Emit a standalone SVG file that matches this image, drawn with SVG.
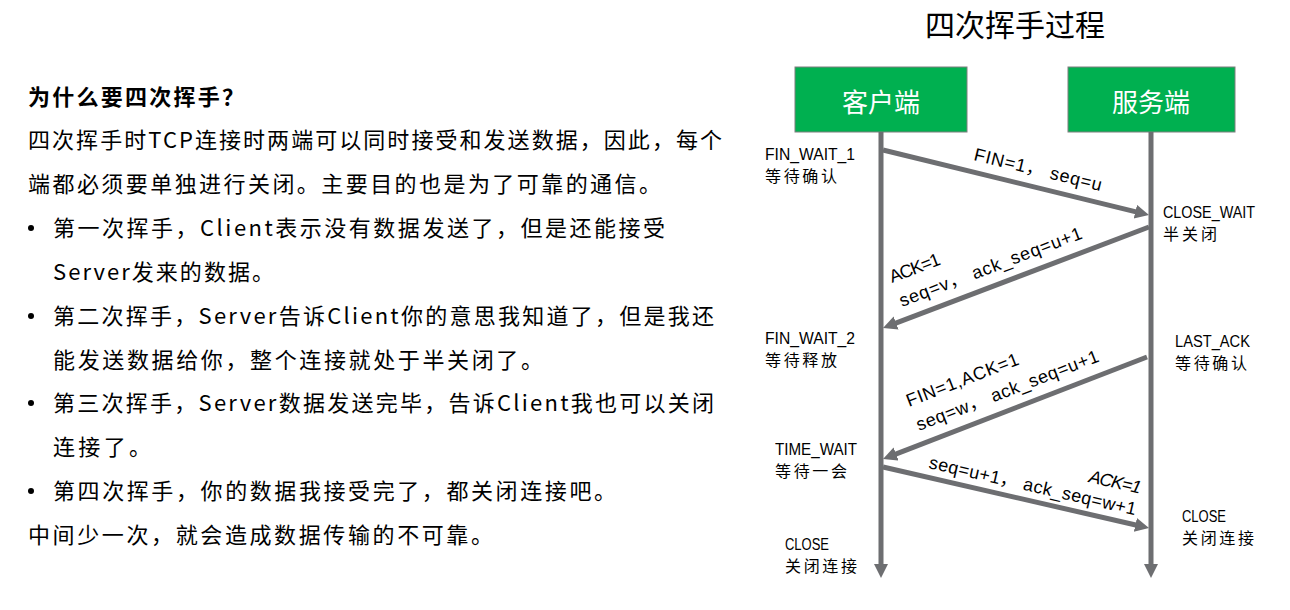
<svg xmlns="http://www.w3.org/2000/svg" width="1290" height="610" viewBox="0 0 1290 610">
<defs>
<style>
.body{font-family:"Noto Sans CJK SC","Liberation Sans",sans-serif;font-size:22px;fill:#000}
.head{font-family:"Noto Sans CJK SC","Liberation Sans",sans-serif;font-size:22px;font-weight:bold;fill:#000}
.title{font-family:"Noto Sans CJK SC",sans-serif;font-size:30px;fill:#000}
.box{fill:#00B050;stroke:#7f7f7f;stroke-width:1}
.boxt{font-family:"Noto Sans CJK SC",sans-serif;font-size:26px;fill:#fff}
.st{font-family:"Liberation Sans","Noto Sans CJK SC",sans-serif;font-size:16px;fill:#000}
.stc{font-family:"Noto Sans CJK SC",sans-serif;font-size:16px;fill:#000}
.msg{font-family:"Liberation Sans","Noto Sans CJK SC",sans-serif;font-size:18px;fill:#000}
.ln{stroke:#6d6e71;stroke-width:5;fill:none}
</style>
<marker id="ah" markerUnits="userSpaceOnUse" markerWidth="16" markerHeight="16" refX="6" refY="7" orient="auto">
<path d="M0,0 L14,7 L0,14 z" fill="#6d6e71"/>
</marker>
</defs>
<rect width="1290" height="610" fill="#fff"/>

<g id="explanation">
<text class="head" x="28" y="105" textLength="216">为什么要四次挥手？</text>
<text class="body" x="28" y="148" textLength="694">四次挥手时TCP连接时两端可以同时接受和发送数据，因此，每个</text>
<text class="body" x="28" y="192" textLength="633">端都必须要单独进行关闭。主要目的也是为了可靠的通信。</text>
<circle cx="31" cy="228" r="3" fill="#000"/>
<text class="body" x="53" y="236" textLength="612">第一次挥手，Client表示没有数据发送了，但是还能接受</text>
<text class="body" x="53" y="280" textLength="221">Server发来的数据。</text>
<circle cx="31" cy="316" r="3" fill="#000"/>
<text class="body" x="53" y="324" textLength="661">第二次挥手，Server告诉Client你的意思我知道了，但是我还</text>
<text class="body" x="53" y="368" textLength="490">能发送数据给你，整个连接就处于半关闭了。</text>
<circle cx="31" cy="403" r="3" fill="#000"/>
<text class="body" x="53" y="411" textLength="661">第三次挥手，Server数据发送完毕，告诉Client我也可以关闭</text>
<text class="body" x="53" y="455" textLength="98">连接了。</text>
<circle cx="31" cy="491" r="3" fill="#000"/>
<text class="body" x="53" y="499" textLength="563">第四次挥手，你的数据我接受完了，都关闭连接吧。</text>
<text class="body" x="28" y="543" textLength="465">中间少一次，就会造成数据传输的不可靠。</text>
</g>

<text class="title" x="1015" y="36" text-anchor="middle">四次挥手过程</text>

<g id="client">
<rect class="box" x="795" y="67" width="172" height="65"/>
<text class="boxt" x="881" y="112" text-anchor="middle">客户端</text>
</g>
<g id="server">
<rect class="box" x="1068" y="67" width="167" height="65"/>
<text class="boxt" x="1151" y="112" text-anchor="middle">服务端</text>
</g>

<g id="connectors">
<line class="ln" x1="881" y1="132" x2="881" y2="570" marker-end="url(#ah)"/>
<line class="ln" x1="1151" y1="132" x2="1151" y2="570" marker-end="url(#ah)"/>
<line class="ln" x1="883" y1="150" x2="1141.2" y2="213.1" marker-end="url(#ah)"/>
<line class="ln" x1="1149" y1="227" x2="890.5" y2="325.2" marker-end="url(#ah)"/>
<line class="ln" x1="1147" y1="357" x2="890.5" y2="456.1" marker-end="url(#ah)"/>
<line class="ln" x1="883" y1="467" x2="1141.2" y2="526.2" marker-end="url(#ah)"/>
</g>

<g id="labels">
<text class="st" x="765" y="160" textLength="90" lengthAdjust="spacingAndGlyphs">FIN_WAIT_1</text>
<text class="stc" x="765" y="182" textLength="72">等待确认</text>
<text class="st" x="1163" y="218" textLength="92" lengthAdjust="spacingAndGlyphs">CLOSE_WAIT</text>
<text class="stc" x="1163" y="240" textLength="54">半关闭</text>
<text class="st" x="765" y="344" textLength="90" lengthAdjust="spacingAndGlyphs">FIN_WAIT_2</text>
<text class="stc" x="765" y="366" textLength="72">等待释放</text>
<text class="st" x="1175" y="347" textLength="75" lengthAdjust="spacingAndGlyphs">LAST_ACK</text>
<text class="stc" x="1175" y="369" textLength="72">等待确认</text>
<text class="st" x="775" y="455" textLength="82" lengthAdjust="spacingAndGlyphs">TIME_WAIT</text>
<text class="stc" x="775" y="477" textLength="72">等待一会</text>
<text class="st" x="785" y="550" textLength="44" lengthAdjust="spacingAndGlyphs">CLOSE</text>
<text class="stc" x="785" y="572" textLength="72">关闭连接</text>
<text class="st" x="1182" y="522" textLength="44" lengthAdjust="spacingAndGlyphs">CLOSE</text>
<text class="stc" x="1182" y="544" textLength="72">关闭连接</text>
</g>

<g id="messages">
<text class="msg" transform="translate(973,160) rotate(13.7)" textLength="131">FIN=1， seq=u</text>
<text class="msg" transform="translate(892,283) rotate(-20.8)" textLength="53">ACK=1</text>
<text class="msg" transform="translate(902,307) rotate(-20.8)" textLength="194">seq=v， ack_seq=u+1</text>
<text class="msg" transform="translate(909,407) rotate(-21.1)" textLength="119">FIN=1,ACK=1</text>
<text class="msg" transform="translate(919,431) rotate(-21.1)" textLength="194">seq=w， ack_seq=u+1</text>
<text class="msg" transform="translate(928,468) rotate(12.9)" textLength="212">seq=u+1， ack_seq=w+1</text>
<text class="msg" transform="translate(1088,482) rotate(12.9)" font-style="italic" textLength="53">ACK=1</text>
</g>
</svg>
